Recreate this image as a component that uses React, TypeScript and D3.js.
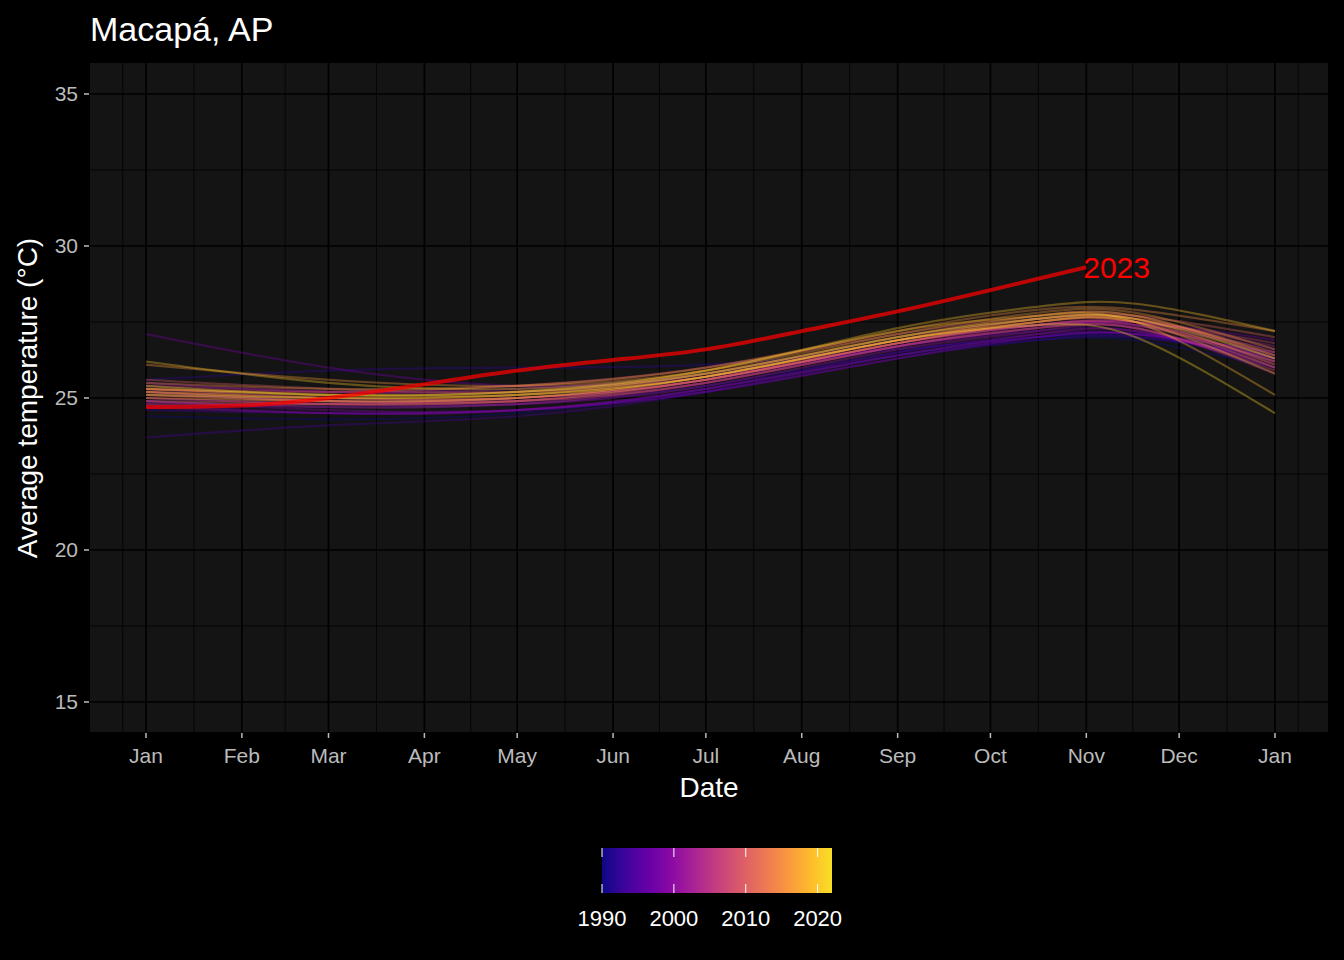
import React from "react";
import * as d3 from "d3";

const monthLabels = ["Jan","Feb","Mar","Apr","May","Jun","Jul","Aug","Sep","Oct","Nov","Dec","Jan"];
const monthStarts = [0,31,59,90,120,151,181,212,243,273,304,334,365];
const yTicks = [15,20,25,30,35];
const knotDays = [0,59,120,181,243,288,320,365];
const firstYear = 1990;
// one row per year, 1990..2022, values at knotDays
const yearValues: number[][] = [
[24.4,24.3,24.5,25.3,26.4,26.9,26.9,26.0],
[24.9,24.7,24.8,25.4,26.5,27.0,27.0,26.3],
[25.6,25.9,26.0,26.1,26.6,27.0,27.1,26.5],
[24.6,24.5,24.6,25.2,26.3,26.9,27.0,26.4],
[23.7,24.1,24.4,25.2,26.4,27.0,27.1,26.2],
[25.2,24.9,25.0,25.6,26.7,27.2,27.2,26.0],
[24.8,24.5,24.6,25.3,26.5,27.1,27.1,26.3],
[25.5,25.2,25.3,25.8,26.9,27.4,27.4,26.6],
[27.1,26.0,25.4,25.7,26.7,27.3,27.5,26.9],
[24.9,24.6,24.6,25.2,26.3,27.0,27.1,26.5],
[24.7,24.5,24.6,25.3,26.4,27.1,27.2,26.1],
[25.0,24.8,24.8,25.4,26.6,27.2,27.3,25.8],
[25.3,25.0,25.0,25.6,26.8,27.4,27.4,26.3],
[25.1,24.9,24.9,25.5,26.7,27.4,27.5,26.7],
[24.9,24.7,24.8,25.5,26.7,27.3,27.3,26.0],
[25.4,25.2,25.2,25.8,27.0,27.6,27.6,26.4],
[25.0,24.8,24.9,25.6,26.8,27.4,27.4,26.2],
[24.8,24.8,25.0,25.6,26.8,27.4,27.5,26.8],
[25.2,24.9,24.9,25.5,26.7,27.3,27.3,25.9],
[25.3,25.2,25.4,26.0,27.1,27.7,27.7,26.3],
[25.6,25.3,25.2,25.7,26.9,27.6,27.7,27.0],
[24.9,24.8,24.9,25.6,26.8,27.5,27.5,26.2],
[25.1,24.9,25.0,25.7,26.9,27.5,27.5,26.0],
[25.2,25.0,25.0,25.6,26.8,27.5,27.6,26.5],
[25.3,25.1,25.1,25.7,26.9,27.6,27.6,26.1],
[25.5,25.3,25.4,26.0,27.2,27.9,27.9,27.2],
[26.1,25.6,25.4,25.9,27.1,27.8,27.8,26.6],
[25.2,25.0,25.1,25.8,27.0,27.7,27.7,26.4],
[25.0,24.9,25.0,25.7,26.9,27.5,27.5,25.8],
[25.3,25.1,25.2,25.9,27.2,27.7,27.5,25.1],
[26.2,25.5,25.3,25.9,27.3,28.0,28.1,27.2],
[25.1,25.0,25.1,25.7,26.9,27.4,27.0,24.5],
[25.4,25.1,25.2,25.8,27.0,27.6,27.6,26.3],
];
const days2023 = [0,31,59,90,120,151,181,212,243,273,304];
const values2023 = [24.7,24.75,25.0,25.45,25.9,26.25,26.6,27.2,27.85,28.55,29.3];
const legendTicks = [1990,2000,2010,2020];

export default function App() {
  const W = 1344, H = 960;
  const pl = 90, pr = 1328, pt = 63, pb = 732;
  const x = d3.scaleLinear().domain([0, 365]).range([146, 1275]);
  const y = d3.scaleLinear().domain([15, 35]).range([702, 94]);
  const line = d3.line<[number, number]>().x(d => x(d[0])).y(d => y(d[1])).curve(d3.curveNatural);
  const minorX = monthStarts.slice(0, -1).map((m, i) => (m + monthStarts[i + 1]) / 2);
  minorX.unshift(-7.5); minorX.push(372.5);
  const minorY = [17.5, 22.5, 27.5, 32.5];
  const lastYear = firstYear + yearValues.length - 1;
  const color = (yr: number) => d3.interpolatePlasma((yr - firstYear) / (lastYear - firstYear) * 0.94);
  const lx = d3.scaleLinear().domain([1990, 2022]).range([602, 832]);
  const gradStops = d3.range(0, 1.001, 0.1);
  return (
    <svg width={W} height={H} style={{ display: "block", position: "absolute", left: 0, top: 0 }} fontFamily="'Liberation Sans', Arial, sans-serif">
      <defs>
        <clipPath id="pc"><rect x={pl} y={pt} width={pr - pl} height={pb - pt} /></clipPath>
        <linearGradient id="lg" x1="0" x2="1" y1="0" y2="0">
          {gradStops.map(t => <stop key={t} offset={t} stopColor={d3.interpolatePlasma(t * 0.94)} />)}
        </linearGradient>
      </defs>
      <rect width={W} height={H} fill="#000" />
      <rect x={pl} y={pt} width={pr - pl} height={pb - pt} fill="#141414" />
      <g clipPath="url(#pc)">
        {minorY.map(v => <line key={"my" + v} x1={pl} x2={pr} y1={y(v)} y2={y(v)} stroke="#000" strokeWidth={0.8} />)}
        {minorX.map(v => <line key={"mx" + v} x1={x(v)} x2={x(v)} y1={pt} y2={pb} stroke="#000" strokeWidth={0.8} />)}
        {yTicks.map(v => <line key={"y" + v} x1={pl} x2={pr} y1={y(v)} y2={y(v)} stroke="#000" strokeWidth={1.7} />)}
        {monthStarts.map((v, i) => <line key={"x" + i} x1={x(v)} x2={x(v)} y1={pt} y2={pb} stroke="#000" strokeWidth={1.7} />)}
        {yearValues.map((vals, i) => (
          <path key={i} d={line(knotDays.map((d, j) => [d, vals[j]]) as [number, number][]) || ""}
            fill="none" stroke={color(firstYear + i)} strokeOpacity={0.35} strokeWidth={2.2} />
        ))}
        <path d={line(days2023.map((d, j) => [d, values2023[j]]) as [number, number][]) || ""}
          fill="none" stroke="#ff0000" strokeOpacity={0.72} strokeWidth={4} />
      </g>
      <text x={x(303)} y={y(29.3) + 11} fill="#ff0000" fontSize={30}>2023</text>
      {yTicks.map(v => (
        <g key={"yt" + v}>
          <line x1={84} x2={89} y1={y(v)} y2={y(v)} stroke="#bbb" strokeWidth={1.5} />
          <text x={78} y={y(v) + 7} fill="#bbb" fontSize={21} textAnchor="end">{v}</text>
        </g>
      ))}
      {monthStarts.map((v, i) => (
        <g key={"xt" + i}>
          <line x1={x(v)} x2={x(v)} y1={733} y2={738} stroke="#bbb" strokeWidth={1.5} />
          <text x={x(v)} y={763} fill="#bbb" fontSize={21} textAnchor="middle">{monthLabels[i]}</text>
        </g>
      ))}
      <text x={709} y={797} fill="#fff" fontSize={28} textAnchor="middle">Date</text>
      <text transform="translate(37,398) rotate(-90)" fill="#fff" fontSize={28} textAnchor="middle">Average temperature (°C)</text>
      <text x={90} y={41} fill="#fff" fontSize={34}>Macapá, AP</text>
      <rect x={602} y={848} width={230} height={45} fill="url(#lg)" />
      {legendTicks.map(t => (
        <g key={"lt" + t}>
          <line x1={lx(t)} x2={lx(t)} y1={848} y2={857} stroke="#fff" strokeWidth={1} />
          <line x1={lx(t)} x2={lx(t)} y1={884} y2={893} stroke="#fff" strokeWidth={1} />
          <text x={lx(t)} y={926} fill="#fff" fontSize={22} textAnchor="middle">{t}</text>
        </g>
      ))}
    </svg>
  );
}
